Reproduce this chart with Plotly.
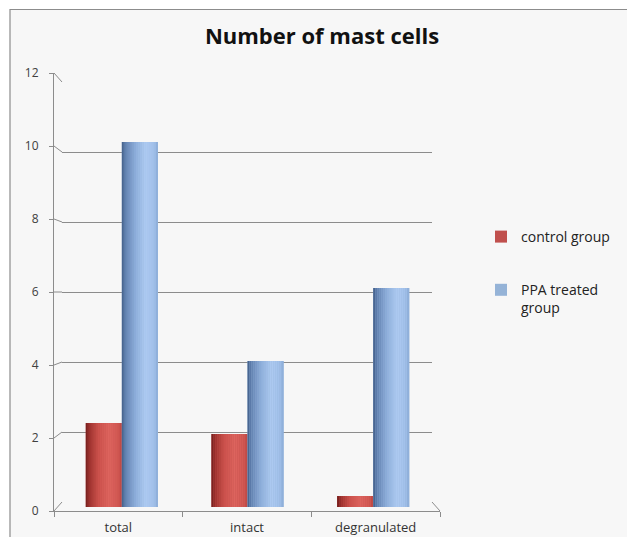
import plotly.graph_objects as go

# ---- data -------------------------------------------------------------
categories = ["total", "intact", "degranulated"]
control_group = [2.3, 2.0, 0.3]
ppa_treated = [10.0, 4.0, 6.0]
y_ticks = [0, 2, 4, 6, 8, 10, 12]

W, H = 627, 537


def fx(px):
    return px / W


def fy(py):
    return 1 - py / H


# pixel frames of the three stacked layers
GRID_X = (62, 432)     # back wall with gridlines
GRID_Y = (502, 82)
AX_X = (54, 440)       # front axes with ticks and labels
AX_Y = (511, 73)
BAR_X = (59, 436)      # columns
BAR_Y = (507, 69)
Y_MAX = 12


def grid_py(v):
    return GRID_Y[0] + (GRID_Y[1] - GRID_Y[0]) * v / Y_MAX


def axis_py(v):
    return AX_Y[0] + (AX_Y[1] - AX_Y[0]) * v / Y_MAX


def hex_to_rgb(h):
    h = h.lstrip("#")
    return tuple(int(h[i:i + 2], 16) for i in (0, 2, 4))


def ramp(stops, t):
    for (t0, c0), (t1, c1) in zip(stops, stops[1:]):
        if t0 <= t <= t1:
            a = (t - t0) / (t1 - t0) if t1 > t0 else 0
            r0, g0, b0 = hex_to_rgb(c0)
            r1, g1, b1 = hex_to_rgb(c1)
            return "rgb(%d,%d,%d)" % (r0 + (r1 - r0) * a, g0 + (g1 - g0) * a, b0 + (b1 - b0) * a)
    return stops[-1][1]


RED_SHADE = [(0.0, "#701d1b"), (0.1, "#9c312d"), (0.35, "#cc514c"),
             (0.65, "#de655f"), (0.9, "#d25853"), (1.0, "#bb4641")]
BLUE_SHADE = [(0.0, "#405c86"), (0.1, "#6181b0"), (0.38, "#8eafdb"),
              (0.66, "#aecbf2"), (0.9, "#a1c0ea"), (1.0, "#8aaad6")]

series = [
    ("control group", control_group, "#c0504d", RED_SHADE, -1),
    ("PPA treated group", ppa_treated, "#95b3d7", BLUE_SHADE, 0),
]

BAR_W = 0.287
N_STRIPS = 18

fig = go.Figure()

# invisible anchors so the back wall and front axes get their scales
fig.add_trace(go.Scatter(x=[0, 1], y=[0, Y_MAX], mode="markers", marker=dict(opacity=0),
                         hoverinfo="skip", showlegend=False, xaxis="x", yaxis="y"))
fig.add_trace(go.Scatter(x=categories, y=control_group, mode="markers", marker=dict(opacity=0),
                         hoverinfo="skip", showlegend=False, xaxis="x2", yaxis="y2"))

for name, vals, color, shade, side in series:
    base = side * BAR_W
    label = name.replace("PPA treated group", "PPA treated<br>group")
    # full column in the legend colour
    fig.add_trace(go.Bar(x=categories, y=vals, name=label, marker=dict(color=color, line=dict(width=0)),
                         width=BAR_W, offset=base, legendgroup=name,
                         xaxis="x3", yaxis="y3"))
    # vertical slices give the cylinder its rounded shading
    sw = BAR_W / N_STRIPS
    for j in range(N_STRIPS):
        t = (j + 0.5) / N_STRIPS
        fig.add_trace(go.Bar(x=categories, y=vals, marker=dict(color=ramp(shade, t), line=dict(width=0)),
                             width=sw * 1.02, offset=base + j * sw, showlegend=False,
                             hoverinfo="skip", legendgroup=name, xaxis="x3", yaxis="y3"))

shapes = [
    # chart area panel
    dict(type="rect", xref="paper", yref="paper", x0=fx(10), x1=1.02, y0=-0.02, y1=fy(9.5),
         fillcolor="#f7f7f7", line=dict(color="#8c8c8c", width=1.2), layer="below"),
]
# perspective connectors from the axis ticks to the back wall
for v in y_ticks:
    shapes.append(dict(type="line", xref="paper", yref="paper",
                       x0=fx(AX_X[0]), y0=fy(axis_py(v)), x1=fx(GRID_X[0]), y1=fy(grid_py(v)),
                       line=dict(color="#8c8c8c", width=1), layer="below"))
# right edge of the floor
shapes.append(dict(type="line", xref="paper", yref="paper",
                   x0=fx(GRID_X[1]), y0=fy(grid_py(0)), x1=fx(AX_X[1]), y1=fy(axis_py(0)),
                   line=dict(color="#8c8c8c", width=1), layer="below"))

TICK_FONT = dict(family="Open Sans", size=12, color="#404040")

fig.update_layout(
    width=W, height=H, autosize=False,
    margin=dict(l=0, r=0, t=0, b=0, pad=0, autoexpand=False),
    paper_bgcolor="white", plot_bgcolor="rgba(0,0,0,0)",
    barmode="overlay",
    title=dict(text="<b>Number of mast cells</b>", x=fx(322), xanchor="center",
               y=fy(36), yanchor="middle", yref="container", automargin=False,
               font=dict(family="Open Sans", size=22, color="#111111")),
    shapes=shapes,
    # back wall gridlines
    xaxis=dict(domain=[fx(GRID_X[0]), fx(GRID_X[1])], range=[0, 1], visible=False,
               automargin=False),
    yaxis=dict(domain=[fy(GRID_Y[0]), fy(GRID_Y[1])], range=[0, Y_MAX], tickvals=y_ticks,
               showgrid=True, gridcolor="#8c8c8c", gridwidth=1.2, zeroline=False,
               showticklabels=False, showline=False, ticks="", anchor="x", automargin=False),
    # front axes
    xaxis2=dict(domain=[fx(AX_X[0]), fx(AX_X[1])], type="category", categoryarray=categories,
                range=[-0.5, 2.5], showline=True, linecolor="#8c8c8c", linewidth=1,
                ticks="outside", tickson="boundaries", ticklen=5, tickcolor="#8c8c8c",
                showgrid=False, tickfont=dict(family="Open Sans", size=13, color="#333333"),
                ticklabelstandoff=4, anchor="y2", automargin=False),
    yaxis2=dict(domain=[fy(AX_Y[0]), fy(AX_Y[1])], range=[0, Y_MAX], tickvals=y_ticks,
                showline=True, linecolor="#8c8c8c", linewidth=1, ticks="outside", ticklen=4,
                tickcolor="#8c8c8c", showgrid=False, zeroline=False, tickfont=TICK_FONT,
                ticklabelstandoff=8, anchor="x2", automargin=False),
    # columns
    xaxis3=dict(domain=[fx(BAR_X[0]), fx(BAR_X[1])], type="category", categoryarray=categories,
                range=[-0.5, 2.5], visible=False, anchor="y3", automargin=False),
    yaxis3=dict(domain=[fy(BAR_Y[0]), fy(BAR_Y[1])], range=[0, Y_MAX], visible=False,
                anchor="x3", automargin=False),
    legend=dict(x=fx(481), xanchor="left", y=fy(221), yanchor="top",
                font=dict(family="Open Sans", size=14, color="#222222"),
                bgcolor="rgba(0,0,0,0)", tracegroupgap=32, valign="top", itemwidth=30),
    showlegend=True,
)

fig.write_html("out.html")
